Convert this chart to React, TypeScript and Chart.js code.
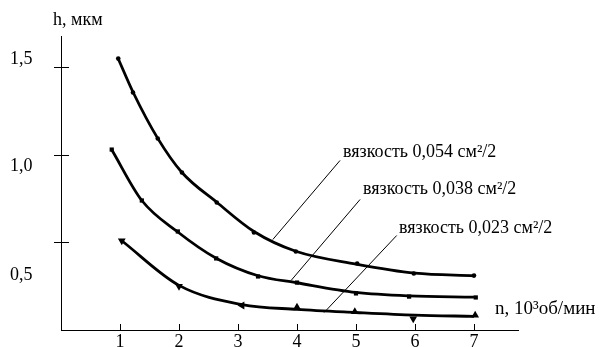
import React, { useEffect, useRef } from "react";
import { Chart, registerables } from "chart.js";

Chart.register(...registerables);

// Fitted curves
const curve1X = [0.97, 1.22, 1.64, 2.05, 2.64, 3.27, 3.98, 5.0, 6.0, 7.0];
const curve1H = [1.55, 1.36, 1.095, 0.9, 0.73, 0.563, 0.45, 0.377, 0.325, 0.31];
const curve2X = [0.86, 1.37, 1.98, 2.63, 3.34, 4.0, 5.0, 5.9, 7.0];
const curve2H = [1.03, 0.74, 0.56, 0.41, 0.31, 0.27, 0.215, 0.195, 0.188];
const curve3X = [1.03, 2.0, 3.07, 4.0, 5.0, 6.0, 7.0];
const curve3H = [0.51, 0.255, 0.145, 0.118, 0.1, 0.085, 0.078];

// Measured points
const pts1X = [0.97, 1.22, 1.64, 2.05, 2.64, 3.27, 3.98, 5.02, 5.98, 7.0];
const pts1H = [1.551, 1.357, 1.094, 0.9, 0.729, 0.557, 0.449, 0.38, 0.323, 0.311];
const pts2X = [0.86, 1.37, 1.98, 2.63, 3.34, 4.0, 5.0, 5.9, 7.03];
const pts2H = [1.031, 0.74, 0.563, 0.409, 0.306, 0.271, 0.209, 0.191, 0.186];
const pts3X = [1.03, 2.0, 3.07, 4.0, 4.98, 5.97, 7.02];
const pts3H = [0.51, 0.25, 0.14, 0.13, 0.105, 0.065, 0.085];
const pts3Rotation = [300, 180, 270, 0, 0, 180, 0];

// Axis ticks
const xTicks = [1, 2, 3, 4, 5, 6, 7];
const xTickLabels = ["1", "2", "3", "4", "5", "6", "7"];
const yTicks = [1.5, 1.0, 0.5];
const yTickLabels = ["1,5", "1,0", "0,5"];
const yLabelOffsets = [-4, 16, 37];

const xTitle = "n, 10³об/мин";
const yTitle = "h, мкм";

// Series labels with leader lines (data coordinates)
const seriesLabels = [
  "вязкость 0,054 см²/2",
  "вязкость 0,038 см²/2",
  "вязкость 0,023 см²/2",
];
const labelX = [4.78, 5.12, 5.73];
const labelH = [0.991, 0.78, 0.557];
const leaderFromX = [4.73, 5.07, 5.69];
const leaderFromH = [0.969, 0.746, 0.54];
const leaderToX = [3.59, 3.9, 4.46];
const leaderToH = [0.517, 0.283, 0.1];

const FONT = '18px "Liberation Serif", "Times New Roman", serif';
const FONT_XTITLE = '19px "Liberation Serif", "Times New Roman", serif';

const zip = (xs: number[], ys: number[]) => xs.map((x, i) => ({ x, y: ys[i] }));

const overlay = {
  id: "overlay",
  afterDraw(chart: any) {
    const ctx = chart.ctx;
    const xs = chart.scales.x;
    const ys = chart.scales.y;
    const area = chart.chartArea;
    ctx.save();
    ctx.strokeStyle = "#000";
    ctx.fillStyle = "#000";
    ctx.lineWidth = 1;
    // x ticks (upwards)
    xTicks.forEach((v) => {
      const px = Math.round(xs.getPixelForValue(v)) + 0.5;
      ctx.beginPath();
      ctx.moveTo(px, area.bottom);
      ctx.lineTo(px, area.bottom - 6);
      ctx.stroke();
    });
    // y ticks (crossing)
    yTicks.forEach((v) => {
      const py = Math.round(ys.getPixelForValue(v)) + 0.5;
      ctx.beginPath();
      ctx.moveTo(area.left - 7, py);
      ctx.lineTo(area.left + 8, py);
      ctx.stroke();
    });
    ctx.font = FONT;
    ctx.textBaseline = "alphabetic";
    ctx.textAlign = "center";
    xTicks.forEach((v, i) => {
      ctx.fillText(xTickLabels[i], xs.getPixelForValue(v), area.bottom + 17);
    });
    ctx.textAlign = "left";
    yTicks.forEach((v, i) => {
      ctx.fillText(yTickLabels[i], 10, ys.getPixelForValue(v) + yLabelOffsets[i]);
    });
    ctx.fillText(yTitle, 53, 25);
    // leader lines + labels
    seriesLabels.forEach((t, i) => {
      ctx.beginPath();
      ctx.moveTo(xs.getPixelForValue(leaderFromX[i]), ys.getPixelForValue(leaderFromH[i]));
      ctx.lineTo(xs.getPixelForValue(leaderToX[i]), ys.getPixelForValue(leaderToH[i]));
      ctx.stroke();
      ctx.fillText(t, xs.getPixelForValue(labelX[i]), ys.getPixelForValue(labelH[i]));
    });
    ctx.font = FONT_XTITLE;
    ctx.fillText(xTitle, 495, 314);
    ctx.restore();
  },
};

export default function App() {
  const ref = useRef<HTMLCanvasElement>(null);
  useEffect(() => {
    if (!ref.current) return;
    const curve = (xs: number[], ys: number[]) => ({
      data: zip(xs, ys),
      showLine: true,
      borderColor: "#000",
      borderWidth: 2.8,
      pointRadius: 0,
      cubicInterpolationMode: "monotone" as const,
    });
    const chart = new Chart(ref.current, {
      type: "scatter",
      data: {
        datasets: [
          curve(curve1X, curve1H),
          curve(curve2X, curve2H),
          curve(curve3X, curve3H),
          {
            data: zip(pts1X, pts1H),
            pointStyle: "circle",
            pointRadius: 2.3,
            backgroundColor: "#000",
            borderColor: "#000",
            borderWidth: 0,
          },
          {
            data: zip(pts2X, pts2H),
            pointStyle: "rect",
            pointRadius: 3,
            backgroundColor: "#000",
            borderColor: "#000",
            borderWidth: 0,
          },
          {
            data: zip(pts3X, pts3H),
            pointStyle: "triangle",
            pointRadius: 4.5,
            pointRotation: pts3Rotation,
            backgroundColor: "#000",
            borderColor: "#000",
            borderWidth: 0,
          },
        ],
      },
      options: {
        responsive: false,
        animation: false,
        devicePixelRatio: 1,
        layout: { padding: { left: 61, right: 83, top: 36, bottom: 17 } },
        plugins: { legend: { display: false }, tooltip: { enabled: false } },
        scales: {
          x: {
            type: "linear",
            min: 0,
            max: 7.746,
            grid: { display: false },
            ticks: { display: false },
            border: { display: true, color: "#000", width: 1 },
            afterFit: (s: any) => {
              s.height = 0;
            },
          },
          y: {
            type: "linear",
            min: 0,
            max: 1.68,
            grid: { display: false },
            ticks: { display: false },
            border: { display: true, color: "#000", width: 1 },
            afterFit: (s: any) => {
              s.width = 0;
            },
          },
        },
      },
      plugins: [overlay],
    });
    return () => chart.destroy();
  }, []);
  return (
    <div style={{ position: "absolute", left: 0, top: 0, width: 601, height: 347, background: "#fff" }}>
      <canvas ref={ref} width={601} height={347} />
    </div>
  );
}
